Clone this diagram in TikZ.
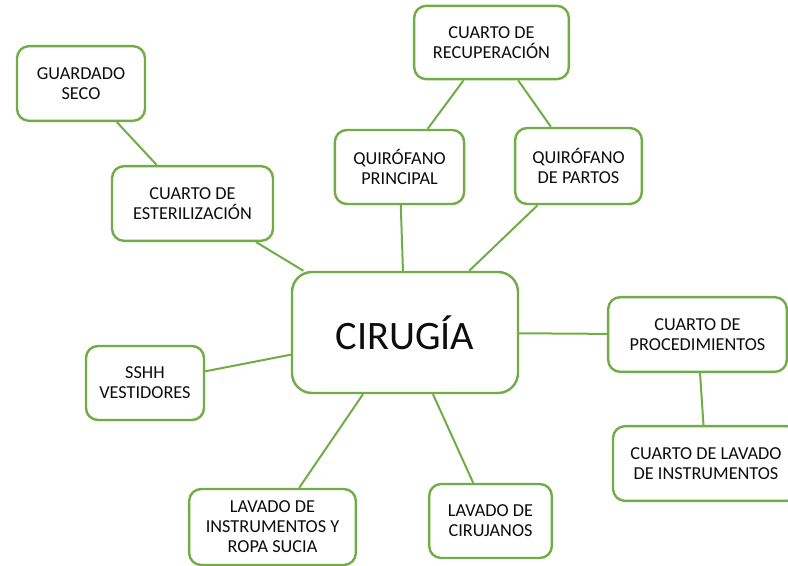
\documentclass[tikz,border=0pt]{standalone}
\usepackage{fontspec}
\setmainfont{Carlito}
\definecolor{boxgreen}{HTML}{70AD47}
\definecolor{txtgray}{HTML}{0D0D0D}

\begin{document}
\begin{tikzpicture}[x=0.75pt,y=-0.75pt,
    area/.style={draw=boxgreen,line width=1.8pt,rounded corners=9pt,fill=white,
        align=center,text=txtgray,inner sep=0pt,
        font=\fontsize{13.7}{15}\selectfont},
    hub/.style={area,rounded corners=15pt,font=\fontsize{30.3}{34}\selectfont},
    link/.style={draw=boxgreen,line width=1.5pt}]
                    \useasboundingbox (0,0) rectangle (788,566);
                    % centro
                    \node[hub,minimum width=169.5pt,minimum height=90.75pt] (cir) at (405,332.5) {CIRUG\'IA};
                    % areas alrededor
                    \node[area,minimum width=96pt,minimum height=56pt] (guard) at (81,83.5) {GUARDADO\\SECO};
                    \node[area,minimum width=120.75pt,minimum height=56pt] (ester) at (192.5,203.5) {CUARTO DE\\ESTERILIZACI\'ON};
                    \node[area,minimum width=116pt,minimum height=55pt] (recup) at (491.5,42.5) {CUARTO DE\\RECUPERACI\'ON};
                    \node[area,minimum width=97pt,minimum height=55.5pt] (qprin) at (399.5,167) {QUIR\'OFANO\\PRINCIPAL};
                    \node[area,minimum width=95pt,minimum height=57pt] (qpart) at (578.5,166) {QUIR\'OFANO\\DE PARTOS};
                    \node[area,minimum width=134pt,minimum height=56pt] (proc) at (697.5,334.5) {CUARTO DE\\PROCEDIMIENTOS};
                    \node[area,minimum width=139.5pt,minimum height=56pt] (lavins) at (706,463.5) {CUARTO DE LAVADO\\DE INSTRUMENTOS};
                    \node[area,minimum width=88.5pt,minimum height=55.5pt] (sshh) at (145,383) {SSHH\\VESTIDORES};
                    \node[area,minimum width=125pt,minimum height=57pt] (lavrop) at (272.5,527) {LAVADO DE\\INSTRUMENTOS Y\\ROPA SUCIA};
                    \node[area,minimum width=92pt,minimum height=55.5pt] (lavcir) at (490.5,521) {LAVADO DE\\CIRUJANOS};
                    % conexiones
                    \draw[link] (guard) -- (ester);
                    \draw[link] (ester) -- (cir);
                    \draw[link] (recup) -- (qprin);
                    \draw[link] (recup) -- (qpart);
                    \draw[link] (qprin) -- (cir);
                    \draw[link] (qpart) -- (cir);
                    \draw[link] (cir) -- (proc);
                    \draw[link] (proc) -- (lavins);
                    \draw[link] (sshh) -- (cir);
                    \draw[link] (lavrop) -- (cir);
                    \draw[link] (lavcir) -- (cir);
                \end{tikzpicture}
\end{document}
